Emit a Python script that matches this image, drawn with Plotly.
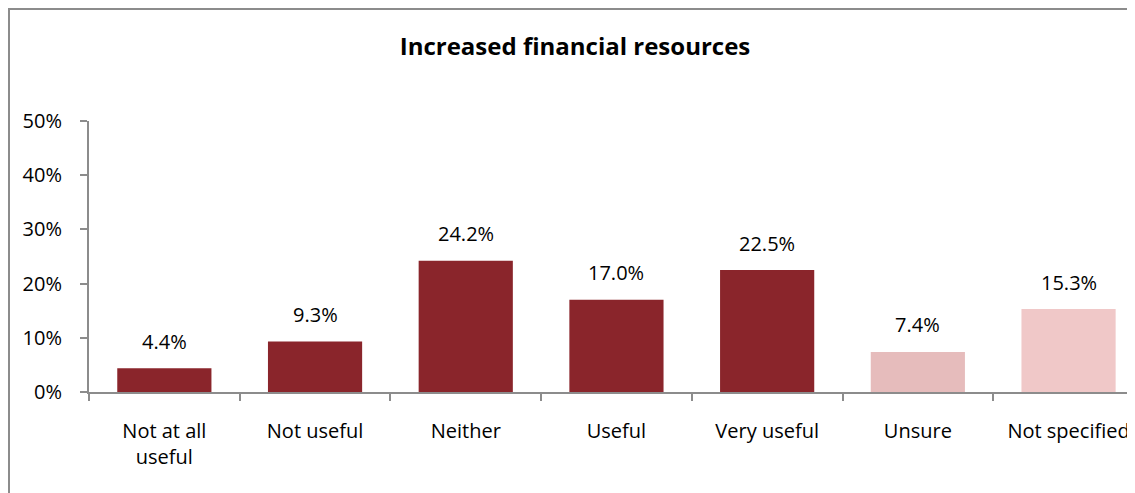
import plotly.graph_objects as go

categories = ["Not at all<br>useful", "Not useful", "Neither", "Useful", "Very useful", "Unsure", "Not specified"]
values = [0.044, 0.093, 0.242, 0.170, 0.225, 0.074, 0.153]
bar_colors = ["#8A252B", "#8A252B", "#8A252B", "#8A252B", "#8A252B", "#E6BCBC", "#F0C8C8"]
y_ticks = [0, 0.1, 0.2, 0.3, 0.4, 0.5]
y_tick_labels = ["0%", "10%", "20%", "30%", "40%", "50%"]

FONT = "Open Sans"
OFF = 8  # page body margin
W, H = 1135 - OFF, 493 - OFF
L, R, T, B = 81, 0, 113, 101
CAT_W = 150.7

fig = go.Figure()
fig.add_trace(go.Bar(
    x=categories, y=values,
    marker=dict(color=bar_colors, line=dict(width=0)),
    width=0.625, hoverinfo="skip",
))

for cat, v in zip(categories, values):
    fig.add_annotation(x=cat, y=v, text=f"{v*100:.1f}%", showarrow=False,
                       yanchor="middle", yshift=27,
                       font=dict(family=FONT, size=20, color="#000000"))

pw = W - L - R
ph = H - T - B
def px_x(p):
    return (p - L) / pw
def px_y(p):
    return (H - B - p) / ph

# chart frame (left and top border)
fig.add_shape(type="line", xref="paper", yref="paper",
              x0=px_x(1), x1=px_x(1), y0=px_y(0), y1=px_y(H + 5),
              line=dict(color="#8C8C8C", width=2))
fig.add_shape(type="line", xref="paper", yref="paper",
              x0=px_x(0), x1=px_x(W + 5), y0=px_y(1), y1=px_y(1),
              line=dict(color="#8C8C8C", width=2))

fig.update_layout(
    width=W, height=H,
    margin=dict(l=L, r=R, t=T, b=B, pad=0),
    paper_bgcolor="white", plot_bgcolor="white",
    showlegend=False, bargap=0.375,
    title=dict(text="<b>Increased financial resources</b>", x=(575 - OFF) / W, xanchor="center",
               y=1 - (47 - OFF) / H, yanchor="middle",
               font=dict(family=FONT, size=24, color="#000000")),
    font=dict(family=FONT, size=20, color="#000000"),
    xaxis=dict(
        type="category", categoryorder="array", categoryarray=categories,
        range=[-0.5, -0.5 + pw / CAT_W],
        showline=True, linecolor="#8C8C8C", linewidth=2,
        ticks="outside", ticklen=7, tickcolor="#8C8C8C", tickwidth=2,
        tickson="boundaries", showgrid=False, zeroline=False,
        ticklabelstandoff=20,
        tickfont=dict(family=FONT, size=20, color="#000000"),
    ),
    yaxis=dict(
        range=[0, 0.5], tickmode="array", tickvals=y_ticks, ticktext=y_tick_labels,
        showline=True, linecolor="#8C8C8C", linewidth=2,
        ticks="outside", ticklen=7, tickcolor="#8C8C8C", tickwidth=2,
        showgrid=False, zeroline=False,
        ticklabelstandoff=14,
        tickfont=dict(family=FONT, size=20, color="#000000"),
    ),
)

fig.write_html("out.html")
